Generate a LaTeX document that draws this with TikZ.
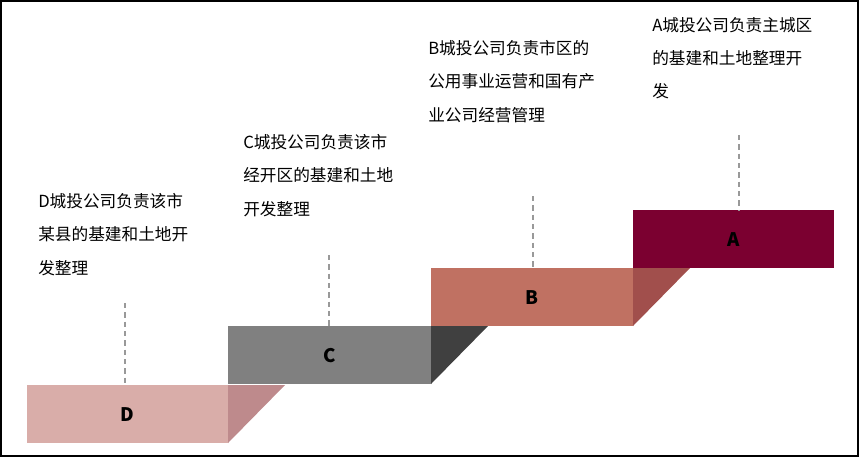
\documentclass[tikz,border=0pt]{standalone}
\usepackage{fontspec}
\setmainfont{Noto Sans CJK SC}
\begin{document}
\begin{tikzpicture}[x=0.75pt,y=-0.75pt,
  lab/.style={anchor=north west,align=left,inner sep=0pt,font=\fontsize{12.5}{25}\selectfont},
  dashline/.style={draw=gray!80,line width=2pt,dash pattern=on 4pt off 3pt},
  letter/.style={font=\fontsize{14}{16}\selectfont\bfseries}]
\useasboundingbox (0,0) rectangle (859,457);
\draw[line width=1.2pt] (1,1) rectangle (858,456);
\definecolor{cD}{HTML}{D9ADA9}\definecolor{cDs}{HTML}{BE8A8C}
\definecolor{cC}{HTML}{808080}\definecolor{cCs}{HTML}{404040}
\definecolor{cB}{HTML}{C07162}\definecolor{cBs}{HTML}{A14F4C}
\definecolor{cA}{HTML}{7B0030}\definecolor{cAs}{HTML}{5E0022}
\fill[cDs] (228,385) -- (285,385) -- (228,443) -- cycle;
\node[fill=cD,minimum width=201*0.75pt,minimum height=58*0.75pt,inner sep=0pt,anchor=north west,letter] (D) at (27,385) {D};
\fill[cCs] (431,326) -- (488,326) -- (431,384) -- cycle;
\node[fill=cC,minimum width=203*0.75pt,minimum height=58*0.75pt,inner sep=0pt,anchor=north west,letter] (C) at (228,326) {C};
\fill[cBs] (633,268) -- (690,268) -- (633,326) -- cycle;
\node[fill=cB,minimum width=202*0.75pt,minimum height=58*0.75pt,inner sep=0pt,anchor=north west,letter] (B) at (431,268) {B};
\node[fill=cA,minimum width=201*0.75pt,minimum height=58*0.75pt,inner sep=0pt,anchor=north west,letter] (A) at (633,210) {A};
\coordinate (dD) at (125,303); \coordinate (dC) at (329,255);
\coordinate (dB) at (533,196); \coordinate (dA) at (739,135);
\draw[dashline] (dD) -- (dD|-D.north);
\draw[dashline] (dC) -- (dC|-C.north);
\draw[dashline] (dB) -- (dB|-B.north);
\draw[dashline] (dA) -- (dA|-A.north);
\node[lab] (tD) at (38,193) {D城投公司负责该市\\某县的基建和土地开\\发整理};
\node[lab] (tC) at (243,134) {C城投公司负责该市\\经开区的基建和土地\\开发整理};
\node[lab] (tB) at (428,40) {B城投公司负责市区的\\公用事业运营和国有产\\业公司经营管理};
\node[lab] (tA) at (652,17) {A城投公司负责主城区\\的基建和土地整理开\\发};
\end{tikzpicture}
\end{document}
